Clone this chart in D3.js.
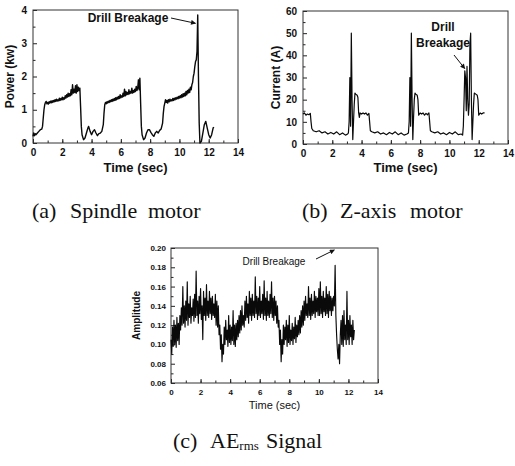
<!DOCTYPE html>
<html>
<head>
<meta charset="utf-8">
<script src="https://cdn.jsdelivr.net/npm/d3@7"></script>
<style>
  body { margin: 0; background: #fff; }
  svg { display: block; }
  .tk text { font-family: "Liberation Sans", Arial, sans-serif; font-weight: bold; }
  .tk path { display: none; }
</style>
</head>
<body>
<svg id="chart" width="515" height="466"></svg>
<script>
// (a) spindle motor power, [time (sec), power (kw)]
var powerA = [[0,0.2],[0.05,0.3],[0.1,0.22],[0.15,0.28],[0.2,0.25],[0.3,0.3],[0.4,0.35],[0.5,0.4],[0.6,0.42],[0.65,0.5],[0.7,0.75],[0.75,1.0],[0.8,1.15],[0.85,1.22],
  [0.9,1.25],[0.95,1.18],[1.0,1.22],[1.05,1.17],[1.1,1.24],[1.15,1.2],[1.2,1.26],[1.25,1.21],[1.3,1.27],[1.35,1.22],[1.4,1.28],[1.45,1.24],[1.5,1.3],[1.55,1.25],[1.6,1.32],[1.65,1.26],[1.7,1.3],[1.75,1.27],[1.8,1.35],[1.85,1.28],[1.9,1.34],[1.95,1.3],
  [2.0,1.38],[2.05,1.3],[2.1,1.36],[2.15,1.32],[2.2,1.42],[2.25,1.35],[2.3,1.45],[2.35,1.38],[2.4,1.5],[2.45,1.4],[2.5,1.48],[2.55,1.42],[2.6,1.6],[2.65,1.45],[2.7,1.75],[2.75,1.5],[2.8,1.62],[2.85,1.52],[2.9,1.72],[2.95,1.5],[3.0,1.75],[3.05,1.55],[3.1,1.68],[3.15,1.58],[3.2,1.65],
  [3.25,1.1],[3.3,0.5],[3.35,0.25],[3.45,0.1],[3.55,0.15],[3.65,0.3],[3.75,0.45],[3.8,0.5],[3.9,0.35],[4.0,0.25],[4.1,0.35],[4.2,0.4],[4.3,0.3],[4.4,0.22],[4.5,0.28],[4.6,0.3],[4.7,0.35],[4.8,0.55],[4.85,0.9],[4.9,1.15],[4.95,1.22],
  [5.0,1.18],[5.05,1.24],[5.1,1.2],[5.15,1.26],[5.2,1.22],[5.25,1.28],[5.3,1.24],[5.35,1.3],[5.4,1.25],[5.45,1.32],[5.5,1.27],[5.55,1.34],[5.6,1.28],[5.65,1.36],[5.7,1.3],[5.75,1.38],[5.8,1.32],[5.85,1.4],[5.9,1.34],[5.95,1.45],
  [6.0,1.36],[6.05,1.42],[6.1,1.38],[6.15,1.5],[6.2,1.4],[6.25,1.62],[6.3,1.42],[6.35,1.55],[6.4,1.45],[6.45,1.52],[6.5,1.46],[6.55,1.6],[6.6,1.48],[6.65,1.55],[6.7,1.5],[6.75,1.65],[6.8,1.5],[6.85,1.58],[6.9,1.52],[6.95,1.62],
  [7.0,1.55],[7.05,1.7],[7.1,1.58],[7.15,1.65],[7.2,1.9],[7.25,1.6],[7.3,1.95],[7.35,1.2],[7.4,0.5],[7.45,0.25],[7.55,0.1],[7.65,0.15],[7.75,0.3],[7.85,0.4],[7.95,0.4],[8.05,0.32],[8.15,0.25],[8.25,0.2],[8.35,0.3],[8.45,0.35],[8.55,0.3],[8.65,0.38],[8.75,0.42],[8.85,0.6],[8.9,0.9],[8.95,1.1],
  [9.0,1.2],[9.05,1.3],[9.1,1.22],[9.15,1.28],[9.2,1.2],[9.25,1.3],[9.3,1.24],[9.35,1.32],[9.4,1.26],[9.45,1.3],[9.5,1.27],[9.55,1.34],[9.6,1.28],[9.65,1.35],[9.7,1.3],[9.75,1.36],[9.8,1.32],[9.85,1.38],[9.9,1.33],[9.95,1.4],
  [10.0,1.35],[10.05,1.42],[10.1,1.36],[10.15,1.45],[10.2,1.38],[10.25,1.48],[10.3,1.4],[10.35,1.5],[10.4,1.42],[10.45,1.55],[10.5,1.45],[10.55,1.58],[10.6,1.5],[10.65,1.62],[10.7,1.52],[10.75,1.68],[10.8,1.6],[10.85,1.75],[10.9,1.82],[10.95,2.0],
  [11.0,2.1],[11.05,2.3],[11.1,2.45],[11.15,2.5],[11.2,2.75],[11.25,3.85],[11.3,2.0],[11.35,0.6],[11.4,0.0],[11.5,0.05],[11.6,0.3],[11.7,0.55],[11.8,0.65],[11.9,0.45],[12.0,0.25],[12.1,0.15],[12.2,0.25],[12.3,0.45],[12.35,0.48]];

// (b) Z-axis motor current, [time (sec), current (A)]
var currentB = [[0,13.5],[0.1,14],[0.2,13],[0.3,13.5],[0.4,13.2],[0.5,13.8],[0.55,10],[0.6,7],[0.7,6],[0.9,5.5],[1.1,6],[1.3,5],[1.5,5.5],[1.7,4.5],[1.9,5.2],[2.1,4.5],[2.3,5.5],[2.5,4.2],[2.7,5],[2.9,4],[3.05,4.5],[3.1,5],
  [3.15,10],[3.2,30],[3.25,8],[3.3,50],[3.35,20],[3.4,2],[3.45,10],[3.5,18],[3.55,23],[3.6,22.5],[3.7,22],[3.75,21],[3.8,14],[3.85,12],[3.9,14],[4.0,13.5],[4.1,14],[4.2,13.5],[4.3,14],[4.4,13],[4.5,13.8],[4.55,10],[4.6,6],
  [4.7,5.5],[4.9,5],[5.1,5.5],[5.3,4.5],[5.5,5],[5.7,4.2],[5.9,5.2],[6.1,4.5],[6.3,5.5],[6.5,4.2],[6.7,5],[6.9,4],[7.1,4.5],[7.2,5],
  [7.25,10],[7.3,30],[7.35,8],[7.4,50],[7.45,20],[7.5,2],[7.55,12],[7.6,20],[7.65,23],[7.7,22.5],[7.8,22],[7.85,20],[7.9,13],[8.0,14],[8.1,13.5],[8.2,14],[8.3,13],[8.4,13.8],[8.5,13.2],[8.6,14],[8.65,10],[8.7,6],
  [8.8,5.5],[9.0,5],[9.2,5.5],[9.4,4.5],[9.6,5],[9.8,4.2],[10.0,5.2],[10.2,4.5],[10.4,5.5],[10.6,4.2],[10.8,4.5],[10.9,4],
  [10.95,8],[11.0,20],[11.05,33],[11.1,30],[11.15,15],[11.2,35],[11.25,20],[11.3,13],[11.35,18],[11.4,45],[11.45,50],[11.5,20],[11.55,2],[11.6,10],[11.65,18],[11.7,23],[11.8,22.5],[11.9,22],[11.95,20],[12.0,13],[12.1,14],[12.2,13.5],[12.3,14],[12.4,14]];

// (c) AE rms amplitude, sampled every 0.05 sec from t = 0
var startC = 0, stepC = 0.05;
var ampC = [0.105,0.09,0.118,0.098,0.125,0.1,0.12,0.097,0.128,0.104,0.122,0.1,
  0.13,0.115,0.138,0.12,0.16,0.122,0.14,0.118,0.145,0.125,
  0.165,0.12,0.142,0.128,0.15,0.122,0.138,0.13,0.147,0.124,
  0.152,0.128,0.176,0.13,0.145,0.122,0.15,0.132,0.158,0.126,
  0.14,0.105,0.155,0.13,0.148,0.125,0.162,0.13,0.145,0.128,
  0.155,0.132,0.148,0.126,0.15,0.13,0.142,0.128,0.152,0.12,
  0.145,0.118,0.14,0.11,
  0.12,0.095,0.11,0.082,0.1,0.09,
  0.118,0.1,0.125,0.105,0.115,0.098,0.13,0.102,0.12,0.1,0.118,0.104,0.135,0.1,0.12,0.098,0.122,0.105,
  0.125,0.108,0.13,0.112,0.135,0.115,0.14,0.12,0.13,0.118,
  0.145,0.125,0.15,0.128,0.142,0.122,0.155,0.13,0.148,0.125,
  0.152,0.13,0.145,0.128,0.17,0.132,0.15,0.126,0.148,0.13,
  0.16,0.128,0.145,0.132,0.152,0.126,0.166,0.13,0.148,0.125,
  0.155,0.13,0.145,0.128,0.152,0.132,0.165,0.128,0.148,0.125,
  0.15,0.13,0.145,0.122,0.14,0.118,
  0.125,0.1,0.115,0.082,0.105,0.09,
  0.12,0.1,0.118,0.105,0.125,0.098,0.12,0.102,0.13,0.1,0.115,0.104,0.122,0.1,0.118,0.106,0.128,0.102,0.12,0.108,0.125,0.11,
  0.13,0.112,0.135,0.118,0.14,0.12,
  0.145,0.125,0.15,0.13,0.142,0.128,0.16,0.13,0.148,0.126,
  0.152,0.13,0.145,0.132,0.155,0.128,0.15,0.134,0.148,0.13,
  0.158,0.13,0.165,0.132,0.15,0.128,0.155,0.134,0.148,0.13,
  0.16,0.132,0.152,0.128,0.155,0.135,0.15,0.13,0.148,0.135,
  0.15,0.14,
  0.182,0.13,0.11,0.095,0.085,0.1,0.08,0.11,
  0.125,0.1,0.13,0.098,0.135,0.105,0.12,0.1,0.155,0.105,0.125,0.1,0.13,0.108,0.12,0.1,0.125,0.105,0.115];

var timeTicks = [0, 2, 4, 6, 8, 10, 12, 14];
var powerTicks = [0, 1, 2, 3, 4];
var currentTicks = [0, 10, 20, 30, 40, 50, 60];
var ampTicks = [0.06, 0.08, 0.10, 0.12, 0.14, 0.16, 0.18, 0.20];

var svg = d3.select("#chart");
var sans = "'Liberation Sans', Arial, sans-serif";
var serif = "'Liberation Serif', 'Times New Roman', serif";

svg.append("defs").append("marker")
    .attr("id", "arr")
    .attr("viewBox", "0 0 10 10")
    .attr("refX", 9).attr("refY", 5)
    .attr("markerWidth", 6).attr("markerHeight", 5)
    .attr("markerUnits", "userSpaceOnUse")
    .attr("orient", "auto")
  .append("path")
    .attr("d", "M0,0L10,5L0,10z")
    .attr("fill", "#111");

// draws one panel: box, ticks, labels, line
function panel(o) {
  var x = d3.scaleLinear().domain([0, 14]).range(o.xr);
  var y = d3.scaleLinear().domain(o.yd).range(o.yr);
  var g = svg.append("g");

  // minor ticks (no labels)
  g.append("g").attr("class", "tk")
    .attr("transform", "translate(0," + o.yr[0] + ")")
    .call(d3.axisBottom(x).tickValues(d3.range(0, 15, 1)).tickSize(-2.5).tickFormat(""));
  g.append("g").attr("class", "tk")
    .attr("transform", "translate(" + o.xr[0] + ",0)")
    .call(d3.axisLeft(y).tickValues(o.minor).tickSize(-2.5).tickFormat(""));

  var xa = g.append("g").attr("class", "tk")
    .attr("transform", "translate(0," + o.yr[0] + ")")
    .call(d3.axisBottom(x).tickValues(timeTicks).tickSize(-4).tickPadding(o.xpad));
  xa.selectAll("text").style("font-size", o.tfs + "px").attr("fill", "#111");
  var ya = g.append("g").attr("class", "tk")
    .attr("transform", "translate(" + o.xr[0] + ",0)")
    .call(d3.axisLeft(y).tickValues(o.yticks).tickSize(-4).tickPadding(o.ypad).tickFormat(o.yfmt));
  ya.selectAll("text").style("font-size", o.tfs + "px").attr("fill", "#111");
  g.selectAll(".tk line").attr("stroke", "#222");

  g.append("rect")
    .attr("x", o.xr[0]).attr("y", o.yr[1])
    .attr("width", o.xr[1] - o.xr[0]).attr("height", o.yr[0] - o.yr[1])
    .attr("fill", "none").attr("stroke", "#333").attr("stroke-width", 1);

  var line = d3.line().x(function(d) { return x(d[0]); }).y(function(d) { return y(d[1]); });
  g.append("path")
    .datum(o.data)
    .attr("d", line)
    .attr("fill", "none")
    .attr("stroke", "#0a0a0a")
    .attr("stroke-width", o.lw)
    .attr("stroke-linejoin", "round");

  g.append("text")
    .attr("x", (o.xr[0] + o.xr[1]) / 2).attr("y", o.xty)
    .attr("text-anchor", "middle")
    .style("font-family", sans).style("font-weight", o.xtw).style("font-size", o.xtfs + "px")
    .attr("fill", "#111")
    .text("Time (sec)");
  g.append("text")
    .attr("transform", "translate(" + o.ytx + "," + ((o.yr[0] + o.yr[1]) / 2) + ") rotate(-90)")
    .attr("text-anchor", "middle")
    .style("font-family", sans).style("font-weight", "bold").style("font-size", o.ytfs + "px")
    .attr("fill", "#111")
    .text(o.ytitle);

  return {x: x, y: y, g: g};
}

var pa = panel({
  xr: [33, 238], yr: [143, 10], yd: [0, 4], yticks: powerTicks, minor: [0.5, 1.5, 2.5, 3.5],
  yfmt: d3.format("d"), data: powerA, lw: 1.4, tfs: 10, xpad: 6, ypad: 6,
  xty: 172, xtw: "bold", xtfs: 13, ytx: 14, ytfs: 12, ytitle: "Power (kw)"
});

var pb = panel({
  xr: [303, 508], yr: [144, 11], yd: [0, 60], yticks: currentTicks, minor: [5, 15, 25, 35, 45, 55],
  yfmt: d3.format("d"), data: currentB, lw: 1.2, tfs: 10, xpad: 6, ypad: 6,
  xty: 172, xtw: "bold", xtfs: 13, ytx: 280, ytfs: 12, ytitle: "Current (A)"
});

var pc = panel({
  xr: [171, 378], yr: [383, 248], yd: [0.06, 0.20], yticks: ampTicks, minor: [0.07, 0.09, 0.11, 0.13, 0.15, 0.17, 0.19],
  yfmt: d3.format(".2f"), data: ampC.map(function(v, i) { return [startC + i * stepC, v]; }), lw: 1.15, tfs: 8, xpad: 6, ypad: 5,
  xty: 409, xtw: "normal", xtfs: 11, ytx: 140, ytfs: 10, ytitle: "Amplitude"
});

// annotations
function label(p, lines, tx, ty, fs, fw) {
  var t = p.g.append("text")
    .attr("text-anchor", "middle")
    .style("font-family", sans).style("font-weight", fw).style("font-size", fs + "px")
    .attr("fill", "#111");
  lines.forEach(function(s, i) {
    t.append("tspan").attr("x", tx).attr("y", ty + i * 16).text(s);
  });
}
function arrow(p, x1, y1, x2, y2) {
  p.g.append("line")
    .attr("x1", x1).attr("y1", y1).attr("x2", x2).attr("y2", y2)
    .attr("stroke", "#111").attr("stroke-width", 1)
    .attr("marker-end", "url(#arr)");
}

label(pa, ["Drill Breakage"], 128, 22, 12, "bold");
arrow(pa, 171, 18, pa.x(11.1), pa.y(3.6));

label(pb, ["Drill", "Breakage"], 443, 31, 12, "bold");
arrow(pb, 454, 55, pb.x(11.05), pb.y(34));

label(pc, ["Drill Breakage"], 274, 265, 10, "normal");
arrow(pc, 316, 259, pc.x(11.05), pc.y(0.198));

// captions, one word per text so the wide gaps match
function caption(y, words) {
  words.forEach(function(w) {
    var t = svg.append("text")
      .attr("x", w.x).attr("y", y)
      .style("font-family", serif).style("font-size", "22px")
      .attr("fill", "#111");
    t.append("tspan").text(w.s);
    if (w.sub) t.append("tspan").text(w.sub).style("font-size", "13px").attr("dy", 2);
  });
}
caption(218, [{x: 32, s: "(a)"}, {x: 70, s: "Spindle"}, {x: 148, s: "motor"}]);
caption(218, [{x: 302, s: "(b)"}, {x: 340, s: "Z-axis"}, {x: 410, s: "motor"}]);
caption(448, [{x: 173, s: "(c)"}, {x: 210, s: "AE", sub: "rms"}, {x: 266, s: "Signal"}]);
</script>
</body>
</html>
